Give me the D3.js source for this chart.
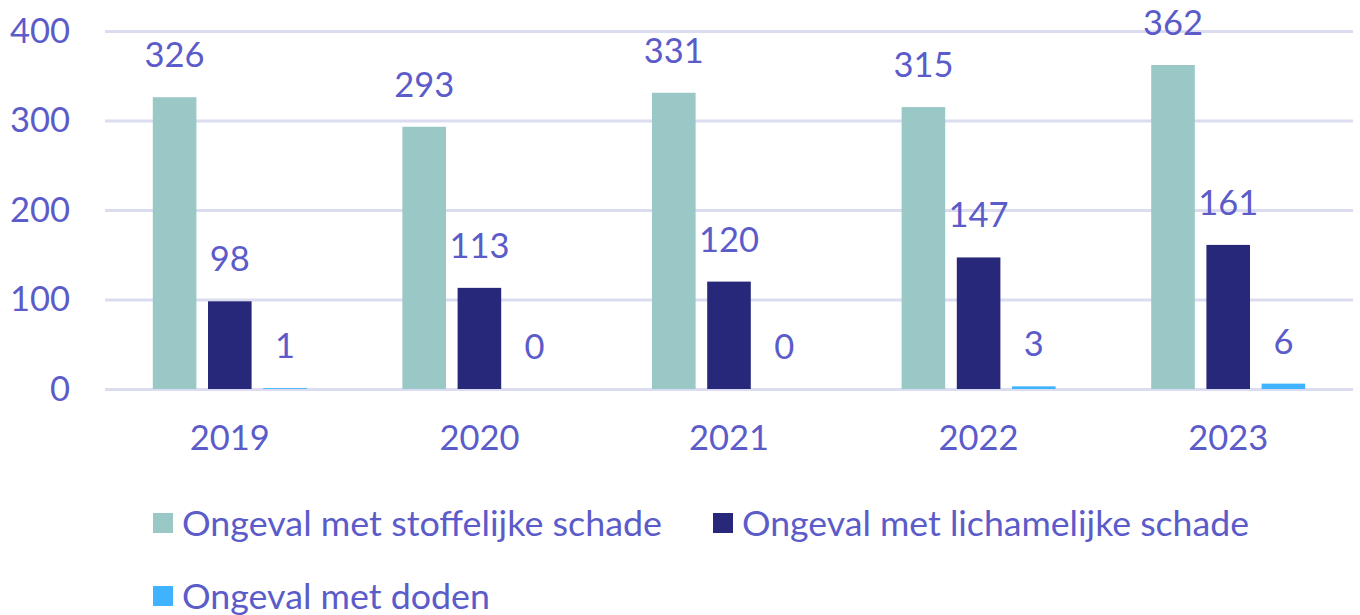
<!DOCTYPE html>
<html>
<head>
<meta charset="utf-8">
<script src="https://cdn.jsdelivr.net/npm/d3@7"></script>
<style>
  body { margin: 0; background: #fff; }
  svg { display: block; font-family: Lato, "Open Sans", sans-serif; }
</style>
</head>
<body>
<div id="chart"></div>
<script>
const years = ['2019', '2020', '2021', '2022', '2023'];
const seriesNames = ['Ongeval met stoffelijke schade', 'Ongeval met lichamelijke schade', 'Ongeval met doden'];
const stoffelijk = [326, 293, 331, 315, 362];
const lichamelijk = [98, 113, 120, 147, 161];
const doden = [1, 0, 0, 3, 6];
const yTicks = [0, 100, 200, 300, 400];

const colors = ['#99c8c6', '#28287a', '#3fb3ff'];
const textColor = '#5b5bc9';

const width = 1360, height = 615;
const plot = {left: 105, right: 1353, top: 31, bottom: 389};

const svg = d3.select('#chart').append('svg')
  .attr('width', width)
  .attr('height', height);

const x0 = d3.scaleBand(years, [plot.left, plot.right])
  .paddingInner(0.383)
  .paddingOuter(0.1915);
const x1 = d3.scaleBand([0, 1, 2], [0, x0.bandwidth()])
  .paddingInner(0.21);
const y = d3.scaleLinear([0, 400], [plot.bottom, plot.top]);

// grid + y labels
const yAxis = svg.append('g')
  .attr('transform', `translate(${plot.left},0)`)
  .call(d3.axisLeft(y).tickValues(yTicks).tickSize(-(plot.right - plot.left)).tickPadding(35));
yAxis.select('.domain').remove();
yAxis.selectAll('line')
  .attr('stroke', '#dcdcf1')
  .attr('stroke-width', 3);
yAxis.selectAll('text')
  .attr('fill', textColor)
  .style('font-size', '34.5px')
  .style('font-family', 'Lato, sans-serif');

// x labels
const xAxis = svg.append('g')
  .attr('transform', `translate(0,${plot.bottom})`)
  .call(d3.axisBottom(x0).tickSize(0).tickPadding(37));
xAxis.select('.domain').remove();
xAxis.selectAll('text')
  .attr('fill', textColor)
  .style('font-size', '34.5px')
  .style('font-family', 'Lato, sans-serif');

const rows = years.map((yr, i) => ({
  year: yr,
  values: [stoffelijk[i], lichamelijk[i], doden[i]]
}));

const groups = svg.append('g')
  .selectAll('g')
  .data(rows)
  .join('g')
    .attr('transform', d => `translate(${x0(d.year)},0)`);

groups.selectAll('rect')
  .data(d => d.values.map((v, k) => ({k, v})))
  .join('rect')
    .attr('x', d => x1(d.k))
    .attr('width', x1.bandwidth())
    .attr('y', d => y(d.v))
    .attr('height', d => y(0) - y(d.v))
    .attr('fill', d => colors[d.k]);

groups.selectAll('text')
  .data(d => d.values.map((v, k) => ({k, v})))
  .join('text')
    .attr('x', d => x1(d.k) + x1.bandwidth() / 2)
    .attr('y', d => y(d.v) - 30)
    .attr('text-anchor', 'middle')
    .attr('fill', textColor)
    .style('font-size', '34.5px')
    .text(d => d.v);

// legend
const legendItems = [
  {name: seriesNames[0], color: colors[0], x: 153, y: 513, len: 480},
  {name: seriesNames[1], color: colors[1], x: 713, y: 513, len: 507},
  {name: seriesNames[2], color: colors[2], x: 153, y: 586, len: 308}
];

const legend = svg.append('g')
  .selectAll('g')
  .data(legendItems)
  .join('g')
    .attr('transform', d => `translate(${d.x},${d.y})`);

legend.append('rect')
  .attr('width', 20)
  .attr('height', 20)
  .attr('fill', d => d.color);

legend.append('text')
  .attr('x', 29)
  .attr('y', 23)
  .attr('fill', textColor)
  .style('font-size', '34.5px')
  .attr('textLength', d => d.len)
  .attr('lengthAdjust', 'spacingAndGlyphs')
  .text(d => d.name);
</script>
</body>
</html>
